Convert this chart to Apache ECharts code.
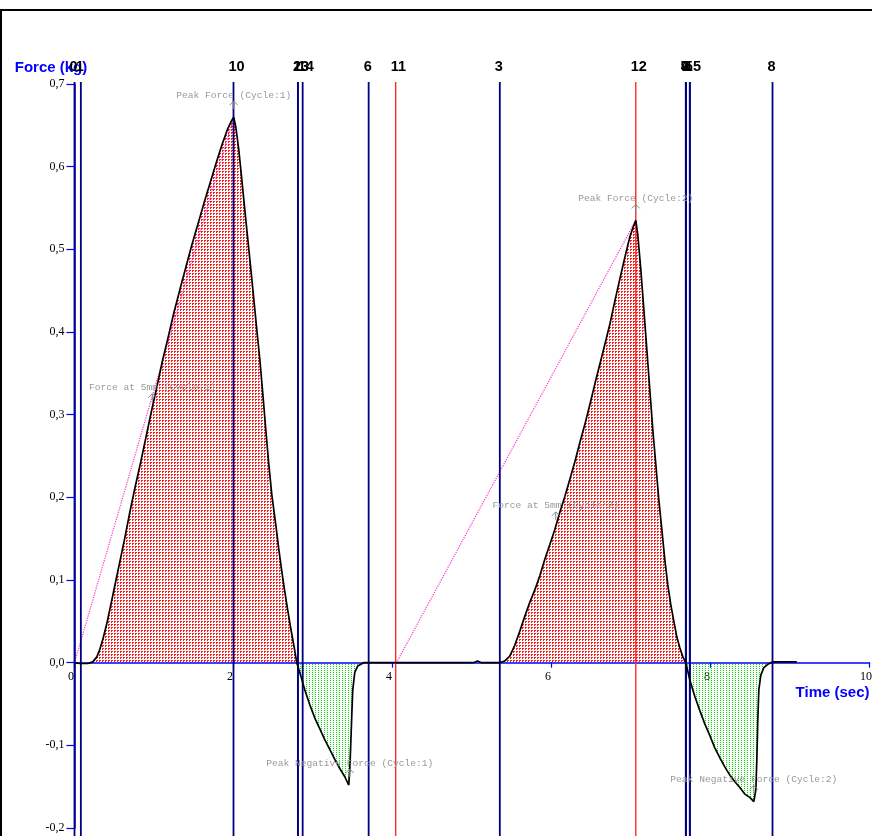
<!DOCTYPE html>
<html><head><meta charset="utf-8">
<script src="https://cdn.jsdelivr.net/npm/echarts@6/dist/echarts.min.js"></script>
<style>html,body{margin:0;padding:0;background:#fff}#chart{width:872px;height:836px}</style>
</head><body><div id="chart"></div>
<script>
// ---- data ----
const timeSec = [
0, 0.067, 0.167, 0.230, 0.281, 0.318, 0.356, 0.406, 0.457, 0.507, 0.570, 0.633, 0.696, 0.759, 0.834, 0.897, 0.972, 1.048, 1.111, 1.174, 1.249, 1.325, 1.400, 1.475, 1.551, 1.626, 1.702, 1.777, 1.853, 1.928, 1.978, 2.003,
2.029, 2.066, 2.104, 2.142, 2.180, 2.218, 2.255, 2.293, 2.331, 2.369, 2.406, 2.444, 2.482, 2.532, 2.570, 2.608, 2.645, 2.683, 2.721, 2.759, 2.796,
2.847, 2.897, 2.960, 3.023, 3.086, 3.148, 3.211, 3.274, 3.337, 3.400, 3.450, 3.462, 3.475, 3.488, 3.500, 3.525, 3.563, 3.638,
3.70, 4.04, 4.50, 5.02, 5.07, 5.12, 5.35,
5.41, 5.475, 5.538, 5.601, 5.664, 5.727, 5.790, 5.853, 5.916, 5.979, 6.042, 6.105, 6.168, 6.231, 6.294, 6.356, 6.419, 6.482, 6.545, 6.608, 6.671, 6.733, 6.796, 6.859, 6.922, 6.985, 7.035, 7.060,
7.085, 7.123, 7.161, 7.199, 7.236, 7.274, 7.312, 7.350, 7.388, 7.425, 7.463, 7.501, 7.539, 7.577, 7.614, 7.652, 7.689,
7.740, 7.803, 7.866, 7.928, 7.991, 8.054, 8.117, 8.180, 8.243, 8.306, 8.369, 8.431, 8.494, 8.545, 8.570, 8.583, 8.595, 8.608, 8.633, 8.671, 8.721, 8.784, 9.086
];
const forceKg = [
0, -0.001, -0.001, 0.001, 0.007, 0.016, 0.028, 0.047, 0.070, 0.093, 0.122, 0.151, 0.182, 0.211, 0.243, 0.272, 0.306, 0.339, 0.367, 0.392, 0.423, 0.451, 0.478, 0.505, 0.530, 0.555, 0.579, 0.603, 0.626, 0.646, 0.656, 0.660,
0.648, 0.621, 0.585, 0.548, 0.512, 0.476, 0.440, 0.403, 0.367, 0.325, 0.282, 0.240, 0.203, 0.167, 0.137, 0.110, 0.086, 0.063, 0.041, 0.021, 0.000,
-0.016, -0.033, -0.051, -0.067, -0.080, -0.093, -0.105, -0.117, -0.128, -0.138, -0.148, -0.130, -0.099, -0.063, -0.033, -0.012, -0.004, 0,
0, 0, 0, 0, 0.002, 0, 0,
0.002, 0.008, 0.021, 0.038, 0.056, 0.073, 0.088, 0.105, 0.125, 0.143, 0.161, 0.182, 0.201, 0.222, 0.243, 0.266, 0.288, 0.312, 0.337, 0.361, 0.385, 0.409, 0.437, 0.464, 0.490, 0.515, 0.529, 0.535,
0.518, 0.476, 0.428, 0.379, 0.331, 0.282, 0.240, 0.197, 0.161, 0.125, 0.094, 0.070, 0.050, 0.031, 0.018, 0.007, 0,
-0.021, -0.041, -0.058, -0.074, -0.088, -0.103, -0.115, -0.126, -0.136, -0.144, -0.151, -0.159, -0.163, -0.168, -0.154, -0.117, -0.069, -0.033, -0.015, -0.006, -0.002, 0.001, 0.001
];
const markerTime  = [0.00, 0.08, 2.00, 2.81, 2.81, 2.87, 3.70, 4.04, 5.35, 7.06, 7.69, 7.69, 7.69, 7.74, 7.74, 8.78];
const markerLabel = ['0', '1', '10', '2', '13', '14', '6', '11', '3', '12', '4', '7', '9', '5', '15', '8'];
const annotTime  = [2.003, 0.979, 6.054, 7.060, 3.462, 8.545];
const annotForce = [0.660, 0.306, 0.163, 0.535, -0.148, -0.168];
const annotText  = ['Peak Force (Cycle:1)', 'Force at 5mm (Cycle:1)', 'Force at 5mm (Cycle:2)', 'Peak Force (Cycle:2)', 'Peak Negative Force (Cycle:1)', 'Peak Negative Force (Cycle:2)'];
const secantStartTime = [0, 4.05];
const secantStartForce = [0, 0];
const secantEndTime = [2.003, 7.060];
const secantEndForce = [0.660, 0.535];
const xAxisMin = 0, xAxisMax = 10, xAxisStep = 2;
const yAxisMin = -0.2, yAxisMax = 0.7, yAxisStep = 0.1;

// ---- layout / styles ----
const GRID = { left: 74.5, right: 2.5, top: 84, bottom: 8 };
const CHART_H = 836;
const gridH = CHART_H - GRID.top - GRID.bottom;
const zeroOffset = -gridH * (0 - yAxisMin) / (yAxisMax - yAxisMin);
const RED_MARKERS = new Set(['11', '12']);
function makePattern(w, h, color, cells) {
  const c = document.createElement('canvas');
  c.width = w; c.height = h;
  const g = c.getContext('2d');
  g.fillStyle = color;
  cells.forEach(([x, y]) => g.fillRect(x, y, 1, 1));
  return c;
}
const redPattern = makePattern(3, 3, '#ff1a1a', [[0,0],[1,0],[0,1]]);
const greenPattern = makePattern(3, 2, '#00dd00', [[0,0]]);

const curve = timeSec.map((t, i) => [t, forceKg[i]]);
const posPart = timeSec.map((t, i) => [t, Math.max(forceKg[i], 0)]);
const negPart = timeSec.map((t, i) => [t, Math.min(forceKg[i], 0)]);

const secantSeries = secantStartTime.map((t, i) => ({
  type: 'line', silent: true, showSymbol: false, symbol: 'none',
  data: [[t, secantStartForce[i]], [secantEndTime[i], secantEndForce[i]]],
  lineStyle: { color: '#ff33cc', width: 1.2, type: 'dotted' }, z: 3
}));

const chart = echarts.init(document.getElementById('chart'), null, { renderer: 'canvas' });
chart.setOption({
  animation: false,
  backgroundColor: '#ffffff',
  grid: Object.assign({ containLabel: false, outerBoundsMode: 'none' }, GRID),
  graphic: [{
    type: 'rect', silent: true, z: -1,
    shape: { x: 1, y: 10, width: 1000, height: 1000 },
    style: { stroke: '#000', lineWidth: 2, fill: null }
  }],
  xAxis: {
    type: 'value', min: xAxisMin, max: xAxisMax, interval: xAxisStep,
    position: 'bottom', offset: zeroOffset,
    axisLine: { show: true, onZero: false, lineStyle: { color: '#0000ff', width: 1.5 } },
    axisTick: { show: true, length: 5, lineStyle: { color: '#0000ff', width: 1.2 } },
    axisLabel: { color: '#000', fontFamily: '"Liberation Serif", serif', fontSize: 12, margin: 8, padding: [0, 7, 0, 0] },
    splitLine: { show: false },
    name: 'Time (sec)', nameLocation: 'end', nameGap: 0,
    nameTextStyle: { color: '#0000ff', fontWeight: 'bold', fontSize: 15, fontFamily: '"Liberation Sans", Arial, sans-serif', align: 'right', verticalAlign: 'top', padding: [23, 0, 0, 0] }
  },
  yAxis: {
    type: 'value', min: yAxisMin, max: yAxisMax, interval: yAxisStep,
    axisLine: { show: true, onZero: false, lineStyle: { color: '#0000ff', width: 1.5 } },
    axisTick: { show: true, length: 8, lineStyle: { color: '#0000ff', width: 1.2 } },
    axisLabel: { color: '#000', fontFamily: '"Liberation Serif", serif', fontSize: 12, margin: 10,
      formatter: v => v.toFixed(1).replace('.', ',') },
    splitLine: { show: false },
    name: 'Force (kg)', nameLocation: 'end', nameGap: 9,
    nameTextStyle: { color: '#0000ff', fontWeight: 'bold', fontSize: 15, fontFamily: '"Liberation Sans", Arial, sans-serif', align: 'center', padding: [0, 47, 0, 0] }
  },
  series: [
    { type: 'line', silent: true, showSymbol: false, symbol: 'none', data: posPart,
      lineStyle: { width: 0, opacity: 0 }, areaStyle: { origin: 'auto', opacity: 1, color: { image: redPattern, repeat: 'repeat' } }, z: 1 },
    { type: 'line', silent: true, showSymbol: false, symbol: 'none', data: negPart,
      lineStyle: { width: 0, opacity: 0 }, areaStyle: { origin: 'auto', opacity: 1, color: { image: greenPattern, repeat: 'repeat' } }, z: 1 },
    ...secantSeries,
    { type: 'custom', silent: true, clip: false, z: 4,
      data: markerTime.map((t, i) => [t, i]),
      encode: { x: 0, y: 1 },
      renderItem: (params, api) => {
        const i = params.dataIndex;
        const t = api.value(0);
        const top = api.coord([t, yAxisMax]);
        const bot = api.coord([t, yAxisMin]);
        const red = RED_MARKERS.has(markerLabel[i]);
        return { type: 'group', children: [
          { type: 'line', shape: { x1: top[0], y1: top[1] - 2, x2: top[0], y2: bot[1] + 10 },
            style: { stroke: red ? '#ff2a2a' : '#000080', lineWidth: red ? 1.4 : 1.8 } },
          { type: 'text', x: top[0] - 5, y: top[1] - 10,
            style: { text: markerLabel[i], font: 'bold 14.5px "Liberation Sans", Arial, sans-serif', fill: '#000', align: 'left', verticalAlign: 'bottom' } }
        ]};
      }
    },
    { type: 'line', silent: true, showSymbol: false, symbol: 'none', data: curve,
      lineStyle: { color: '#000', width: 1.7 }, z: 5 },
    { type: 'custom', silent: true, clip: false, z: 6,
      data: annotTime.map((t, i) => [t, annotForce[i]]),
      encode: { x: 0, y: 1 },
      renderItem: (params, api) => {
        const i = params.dataIndex;
        const p = api.coord([api.value(0), api.value(1)]);
        return { type: 'group', children: [
          { type: 'polyline', shape: { points: [[p[0] - 4, p[1] - 12], [p[0], p[1] - 16], [p[0] + 4, p[1] - 12]] },
            style: { stroke: '#888', fill: null, lineWidth: 1 } },
          { type: 'line', shape: { x1: p[0], y1: p[1] - 16, x2: p[0], y2: p[1] - 8 }, style: { stroke: '#888', lineWidth: 1 } },
          { type: 'text', x: p[0], y: p[1] - 22,
            style: { text: annotText[i], font: '9.6px "Liberation Mono", monospace', fill: '#999999', align: 'center', verticalAlign: 'middle' } }
        ]};
      }
    }
  ]
});
</script></body></html>
